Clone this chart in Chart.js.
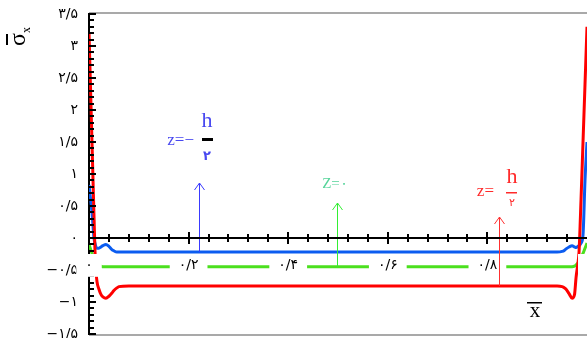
<!DOCTYPE html>
<html>
<head>
<meta charset="utf-8">
<script src="https://cdn.jsdelivr.net/npm/chart.js@4.4.1/dist/chart.umd.min.js"></script>
<style>
  html, body { margin: 0; padding: 0; background: #fff; }
  canvas { display: block; }
</style>
</head>
<body>
<canvas id="stress" width="587" height="338"></canvas>
<script>
// normalised position along the plate
const xs = [0, 0.006, 0.01, 0.012, 0.014, 0.016, 0.02, 0.024, 0.028, 0.034, 0.04, 0.046, 0.05, 0.056, 0.06, 0.08,
  0.2, 0.4, 0.6, 0.8, 0.94, 0.95, 0.955, 0.958, 0.964, 0.97, 0.975, 0.978, 0.982, 0.984, 0.988, 0.992, 0.996, 1];

// normalised in-plane stress at the three through-thickness positions
const sigmaTop = [3.22, 1.5, 0.35, -0.2, -0.5, -0.68, -0.8, -0.88, -0.92, -0.94, -0.91, -0.86, -0.82, -0.78, -0.76, -0.75,
  -0.75, -0.75, -0.75, -0.75, -0.75, -0.76, -0.78, -0.8, -0.87, -0.94, -0.88, -0.62, -0.38, -0.22, 0.6, 1.5, 2.4, 3.3];
const sigmaMid = [-0.1, -0.24, -0.32, -0.36, -0.39, -0.41, -0.43, -0.44, -0.45, -0.45, -0.45, -0.45, -0.45, -0.45, -0.45, -0.45,
  -0.45, -0.45, -0.45, -0.45, -0.45, -0.45, -0.45, -0.45, -0.45, -0.45, -0.44, -0.42, -0.39, -0.36, -0.3, -0.24, -0.16, -0.08];
const sigmaBottom = [0.83, 0.4, 0.0, -0.08, -0.14, -0.16, -0.16, -0.14, -0.12, -0.1, -0.13, -0.18, -0.2, -0.22, -0.22, -0.22,
  -0.22, -0.22, -0.22, -0.22, -0.22, -0.21, -0.19, -0.17, -0.14, -0.12, -0.14, -0.15, -0.13, -0.12, -0.08, 0.05, 0.9, 1.5];

const xTickValues = [0, 0.2, 0.4, 0.6, 0.8, 1];
const xTickLabels = ['۰', '۰/۲', '۰/۴', '۰/۶', '۰/۸', ''];
const yTickValues = [-1.5, -1, -0.5, 0, 0.5, 1, 1.5, 2, 2.5, 3, 3.5];
const yTickLabels = ['−۱/۵', '−۱', '−۰/۵', '۰', '۰/۵', '۱', '۱/۵', '۲', '۲/۵', '۳', '۳/۵'];

const RED = '#ff0000', BLUE = '#0b5cf0', GREEN = '#4be01e';
const TICK_FONT = { family: 'DejaVu Sans', size: 14 };
const LABEL_PAD = 19;

function points(ys) {
  return xs.map(function (x, i) { return { x: x, y: ys[i] }; });
}

function arrow(ctx, px, yFrom, yTo, color) {
  ctx.strokeStyle = color;
  ctx.lineWidth = 1;
  ctx.beginPath();
  ctx.moveTo(px + 0.5, yFrom);
  ctx.lineTo(px + 0.5, yTo);
  ctx.moveTo(px - 4.5, yTo + 7);
  ctx.lineTo(px + 0.5, yTo);
  ctx.lineTo(px + 5.5, yTo + 7);
  ctx.stroke();
}

// axis ticks, frame lines, label backgrounds, arrows with their z labels, axis titles
const decorations = {
  id: 'decorations',
  afterDatasetsDraw(chart) {
    const ctx = chart.ctx;
    const area = chart.chartArea;
    const x = chart.scales.x, y = chart.scales.y;
    const y0 = Math.round(y.getPixelForValue(0));
    ctx.save();

    ctx.strokeStyle = '#a9a9a9';
    ctx.lineWidth = 2;
    ctx.beginPath();
    ctx.moveTo(area.left, area.top - 1);
    ctx.lineTo(area.right, area.top - 1);
    ctx.moveTo(area.left, area.bottom + 1);
    ctx.lineTo(area.right, area.bottom + 1);
    ctx.stroke();

    ctx.strokeStyle = '#000';
    ctx.lineWidth = 2;
    ctx.beginPath();
    for (let i = -15; i <= 35; i++) {
      const py = Math.round(y.getPixelForValue(i / 10));
      ctx.moveTo(area.left, py);
      ctx.lineTo(area.left + (i % 5 === 0 ? 7 : 5), py);
    }
    for (let i = 1; i < 25; i++) {
      const px = Math.round(x.getPixelForValue(i * 0.04));
      const len = i % 5 === 0 ? 6 : 4;
      ctx.moveTo(px, y0 - len);
      ctx.lineTo(px, y0 + len);
    }
    ctx.stroke();

    // white boxes behind the x tick labels (labels come later, ticks.z = 1)
    const lineH = TICK_FONT.size * 1.2;
    const labelMid = y0 + LABEL_PAD + lineH / 2;
    ctx.font = TICK_FONT.size + 'px "' + TICK_FONT.family + '"';
    ctx.fillStyle = '#fff';
    xTickValues.forEach(function (v, i) {
      const w = ctx.measureText(xTickLabels[i]).width + 18;
      const cx = x.getPixelForValue(v);
      ctx.fillRect(cx - w / 2, labelMid - lineH / 2 - 3, w, lineH + 6);
    });

    // z = -h/2
    let px = Math.round(x.getPixelForValue(0.221));
    let tip = Math.round(y.getPixelForValue(0.86));
    arrow(ctx, px, y.getPixelForValue(-0.22), tip, '#3a3aff');
    ctx.fillStyle = '#4848f0';
    ctx.textBaseline = 'alphabetic';
    ctx.textAlign = 'right';
    ctx.font = '17px "Liberation Serif"';
    ctx.fillText('z=−', px - 5, tip - 38);
    ctx.textAlign = 'center';
    ctx.font = '22px "Liberation Serif"';
    ctx.fillText('h', px + 8, tip - 56);
    ctx.font = 'bold 13px "DejaVu Sans"';
    ctx.fillText('۲', px + 8, tip - 23);
    ctx.fillStyle = '#000';
    ctx.fillRect(px + 3, tip - 45, 11, 3);

    // z = 0
    px = Math.round(x.getPixelForValue(0.498));
    tip = Math.round(y.getPixelForValue(0.55));
    arrow(ctx, px, y.getPixelForValue(-0.45), tip, '#33ee33');
    ctx.fillStyle = '#55d49a';
    ctx.font = '15px "Liberation Serif"';
    ctx.fillText('Z=۰', px - 2, tip - 15);

    // z = h/2
    px = Math.round(x.getPixelForValue(0.823));
    tip = Math.round(y.getPixelForValue(0.33));
    arrow(ctx, px, y.getPixelForValue(-0.75), tip, '#ff3030');
    ctx.fillStyle = '#ff2a2a';
    ctx.textAlign = 'right';
    ctx.font = '17px "Liberation Serif"';
    ctx.fillText('z=', px - 5, tip - 21);
    ctx.textAlign = 'center';
    ctx.font = '22px "Liberation Serif"';
    ctx.fillText('h', px + 13, tip - 34);
    ctx.font = '11px "DejaVu Sans"';
    ctx.fillText('۲', px + 13, tip - 11);
    ctx.fillRect(px + 7, tip - 25, 11, 1.5);

    // axis titles
    ctx.fillStyle = '#000';
    ctx.textAlign = 'center';
    ctx.font = '21px "Liberation Serif"';
    ctx.fillText('x', 535, 317);
    ctx.fillRect(527, 302, 15, 1.5);

    ctx.translate(25, 46);
    ctx.rotate(-Math.PI / 2);
    ctx.textAlign = 'left';
    ctx.font = '24px "Liberation Serif"';
    ctx.fillText('σ', 0, 0);
    ctx.fillRect(1, -19, 11, 2);
    ctx.font = '12px "Liberation Serif"';
    ctx.fillText('x', 13, 5);

    ctx.restore();
  }
};

new Chart(document.getElementById('stress'), {
  type: 'line',
  data: {
    datasets: [
      { data: points(sigmaTop), borderColor: RED, order: 0 },
      { data: points(sigmaBottom), borderColor: BLUE, order: 1 },
      { data: points(sigmaMid), borderColor: GREEN, order: 2 },
    ],
  },
  options: {
    responsive: false,
    animation: false,
    devicePixelRatio: 1,
    layout: { padding: { top: 14, bottom: 4, left: 0, right: 0 } },
    elements: {
      point: { radius: 0 },
      line: { borderWidth: 3, cubicInterpolationMode: 'monotone', fill: false },
    },
    plugins: { legend: { display: false }, tooltip: { enabled: false } },
    scales: {
      x: {
        type: 'linear',
        min: 0,
        max: 1,
        position: { y: 0 },
        grid: { display: false, drawTicks: false },
        border: { display: true, color: '#000', width: 2, z: 1 },
        afterBuildTicks: function (scale) {
          scale.ticks = xTickValues.map(function (v) { return { value: v }; });
        },
        afterFit: function (scale) {
          scale.paddingLeft = 0;
          scale.paddingRight = 0;
        },
        ticks: {
          z: 1,
          autoSkip: false,
          maxRotation: 0,
          padding: LABEL_PAD,
          color: '#000',
          font: TICK_FONT,
          callback: function (value, index) { return xTickLabels[index]; },
        },
      },
      y: {
        min: -1.5,
        max: 3.5,
        grid: { display: false, drawTicks: false },
        border: { display: true, color: '#000', width: 2 },
        afterBuildTicks: function (scale) {
          scale.ticks = yTickValues.map(function (v) { return { value: v }; });
        },
        afterFit: function (scale) {
          scale.width = 89;
          scale.paddingTop = 0;
          scale.paddingBottom = 0;
        },
        ticks: {
          autoSkip: false,
          padding: 11,
          color: '#000',
          font: TICK_FONT,
          callback: function (value, index) { return yTickLabels[index]; },
        },
      },
    },
  },
  plugins: [decorations],
});
</script>
</body>
</html>
